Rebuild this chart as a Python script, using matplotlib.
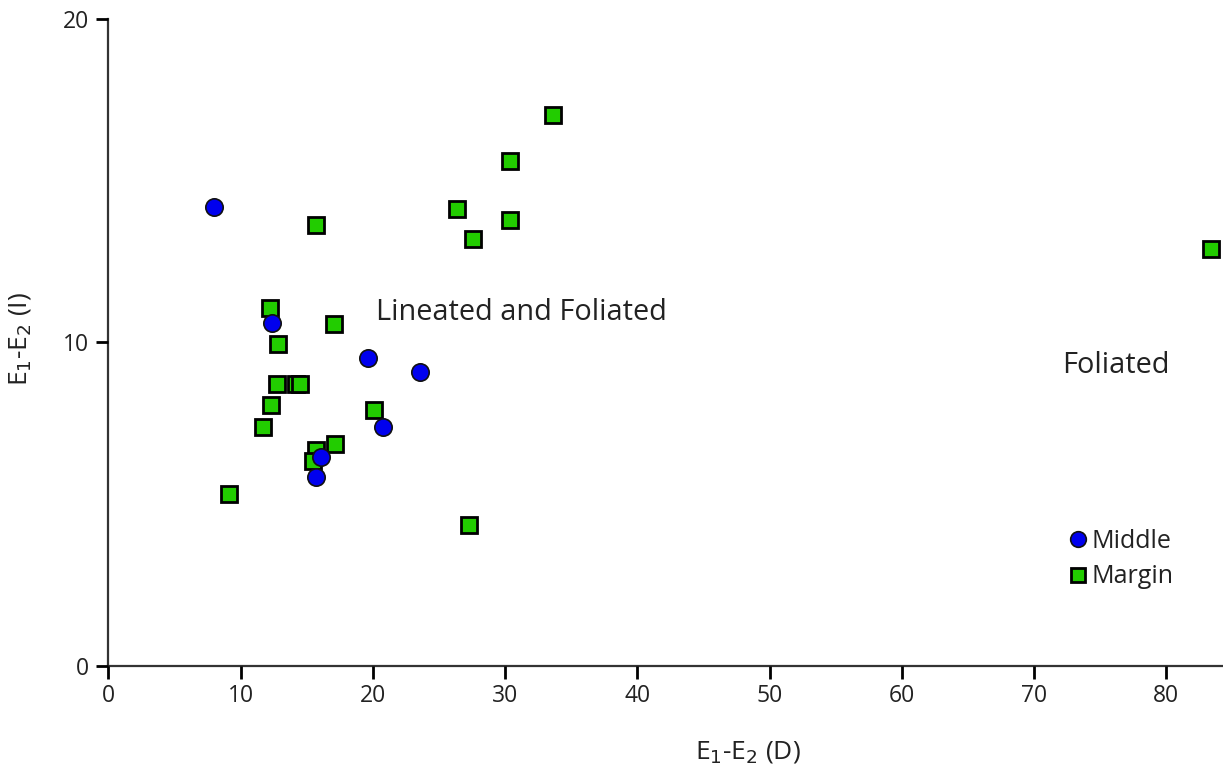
import matplotlib
matplotlib.use("Agg")
import matplotlib.pyplot as plt

plt.rcParams['font.family'] = ['Open Sans', 'DejaVu Sans']

# Data
middle_x = [7.98, 12.36, 19.6, 23.6, 20.8, 16.07, 15.7]
middle_y = [14.2, 10.6, 9.52, 9.09, 7.39, 6.46, 5.84]

margin_x = [33.6, 30.4, 26.35, 30.4, 27.56, 15.7, 83.4, 12.2, 17.05, 12.8,
            12.74, 14.18, 14.5, 12.3, 11.7, 20.1, 17.1, 15.7, 15.46, 9.1, 27.3]
margin_y = [17.03, 15.6, 14.13, 13.8, 13.2, 13.63, 12.89, 11.07, 10.57, 9.95,
            8.72, 8.72, 8.72, 8.07, 7.39, 7.91, 6.86, 6.68, 6.34, 5.32, 4.36]

x_ticks = [0, 10, 20, 30, 40, 50, 60, 70, 80]
y_ticks = [0, 10, 20]

fig = plt.figure(figsize=(12.23, 7.72), dpi=100)
ax = fig.add_axes([0.0887, 0.1373, 0.9113, 0.8381])

ax.plot(margin_x, margin_y, linestyle='none', marker='s', markersize=11.5,
        markerfacecolor='#22cc00', markeredgecolor='black', markeredgewidth=2.0,
        label='Margin', zorder=3)
ax.plot(middle_x, middle_y, linestyle='none', marker='o', markersize=12.5,
        markerfacecolor='#0000ee', markeredgecolor='#111111', markeredgewidth=1.2,
        label='Middle', zorder=4)

ax.set_xlim(0, 84.3)
ax.set_ylim(0, 20)
ax.set_xticks(x_ticks)
ax.set_yticks(y_ticks)
ax.tick_params(axis='both', direction='out', length=9, width=2, labelsize=16.5,
               color='black', labelcolor='#222222')
ax.tick_params(axis='x', pad=4)
ax.tick_params(axis='y', pad=5)

for s in ['top', 'right']:
    ax.spines[s].set_visible(False)
ax.spines['left'].set_linewidth(1.6)
ax.spines['bottom'].set_linewidth(1.6)
ax.spines['left'].set_color('#333333')
ax.spines['bottom'].set_color('#333333')

ax.set_xlabel('E$_1$-E$_2$ (D)', fontsize=19, color='#222222')
ax.set_ylabel('E$_1$-E$_2$ (I)', fontsize=19, color='#222222')
ax.xaxis.label.set_va('center')
ax.yaxis.label.set_va('center')
ax.xaxis.set_label_coords(0.574, -0.133)
ax.yaxis.set_label_coords(-0.079, 0.505)

ax.text(20.2, 10.93, 'Lineated and Foliated', fontsize=20.8, ha='left', va='center',
        color='#222222')
ax.text(72.1, 9.30, 'Foliated', fontsize=20.8, ha='left', va='center', color='#222222')

handles, labels = ax.get_legend_handles_labels()
leg = ax.legend(handles[::-1], labels[::-1], loc='center left',
                bbox_to_anchor=(0.8395, 0.165), frameon=False, fontsize=18,
                handletextpad=0.1, handlelength=0.9, labelspacing=0.42,
                markerscale=0.9)
for t in leg.get_texts():
    t.set_color('#222222')

for sp in ax.spines.values():
    sp.set_zorder(1)
for p in ax.lines:
    p.set_clip_on(False)

fig.savefig('out.png', dpi=100)
